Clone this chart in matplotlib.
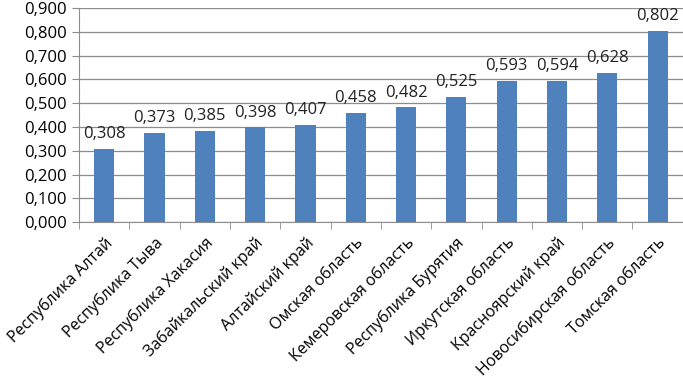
import numpy as np
import matplotlib.pyplot as plt
from matplotlib.ticker import FuncFormatter, FixedLocator

plt.rcParams['font.family'] = ['Open Sans', 'DejaVu Sans']

regions = ['Республика Алтай', 'Республика Тыва', 'Республика Хакасия',
           'Забайкальский край', 'Алтайский край', 'Омская область',
           'Кемеровская область', 'Республика Бурятия', 'Иркутская область',
           'Красноярский край', 'Новосибирская область', 'Томская область']
values = [0.308, 0.373, 0.385, 0.398, 0.407, 0.458, 0.482, 0.525,
          0.593, 0.594, 0.628, 0.802]
y_ticks = [0.0, 0.1, 0.2, 0.3, 0.4, 0.5, 0.6, 0.7, 0.8, 0.9]

fig = plt.figure(figsize=(6.83, 3.83), dpi=100)
ax = fig.add_axes([0.1157, 0.42, 0.884, 0.559])

x = np.arange(len(values))
ax.bar(x, values, width=0.4, color='#4F81BD', zorder=3)

for xi, v in zip(x, values):
    ax.annotate(('%.3f' % v).replace('.', ','), (xi, v), xytext=(0, 5),
                textcoords='offset points', ha='center', va='bottom',
                fontsize=12, color='#222222')

ax.set_xlim(-0.5, len(values) - 0.5)
ax.set_ylim(0, 0.9)
ax.set_yticks(y_ticks)
ax.yaxis.set_major_formatter(FuncFormatter(lambda v, p: ('%.3f' % v).replace('.', ',')))
ax.yaxis.grid(True, color='#8c8c8c', linewidth=0.9, zorder=0)

# подписи по центру, засечки на границах категорий
ax.set_xticks(x)
ax.set_xticklabels(regions, rotation=45, ha='right', rotation_mode='anchor', fontsize=11.5)
ax.tick_params(axis='x', which='major', length=0, pad=9)
ax.xaxis.set_minor_locator(FixedLocator(np.arange(-0.5, len(values), 1.0)))
ax.tick_params(axis='x', which='minor', length=5, color='#8c8c8c')
ax.tick_params(axis='y', length=5, color='#8c8c8c', labelsize=12, pad=4)

for s in ['top', 'right']:
    ax.spines[s].set_visible(False)
ax.spines['left'].set_color('#8c8c8c')
ax.spines['bottom'].set_color('#8c8c8c')

plt.savefig('out.png', dpi=100)
